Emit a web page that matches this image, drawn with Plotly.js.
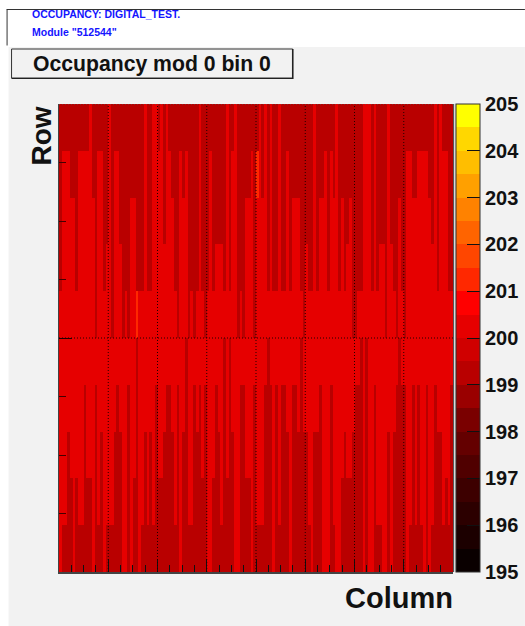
<!DOCTYPE html>
<html><head><meta charset="utf-8">
<script src="https://cdn.plot.ly/plotly-3.0.1.min.js"></script>
<style>html,body{margin:0;padding:0;background:#fff}#c{width:525px;height:626px}</style>
</head><body><div id="c"></div><script>
// Number of dark rows counted from the top edge, per column
const topDark = [4,1,1,1,2,2,4,1,1,1,1,0,2,5,1,1,4,3,0,5,1,1,3,5,4,5,2,2,4,4,4,0,4,4,0,0,1,0,3,0,1,2,4,5,1,2,1,5,4,5,4,0,4,5,4,1,4,3,3,3,4,0,4,1,0,5,4,5,2,2,
 1,5,1,0,2,0,4,0,4,4,0,4,4,1,4,2,2,2,4,5,3,4,4,0,4,2,2,1,4,1,2,0,4,2,4,3,2,5,5,4,4,0,0,0,4,0,4,3,3,5,0,3,4,5,2,4,5,1,1,2,2,1,1,1,1,2,3,0,4,0,1,1,4,4];
// Number of dark rows counted from the bottom edge, per column
const bottomDark = [0,1,1,3,2,0,2,1,1,4,2,2,0,4,1,3,0,1,1,1,3,4,3,0,0,4,0,2,5,0,1,3,1,3,1,4,2,2,3,4,4,3,1,4,0,3,5,1,1,4,3,4,2,4,0,0,2,4,3,1,5,2,5,3,0,0,4,4,2,2,
 0,4,1,1,1,4,5,4,0,4,1,4,4,3,0,4,4,3,5,3,3,1,0,3,3,4,0,0,0,4,1,0,0,2,3,2,2,3,4,4,5,0,5,0,0,4,1,1,0,0,3,0,3,4,5,4,4,0,1,4,1,4,1,0,4,0,1,4,3,3,1,2,1,4];
const brightCells = [[72,8],[28,5]]; // [column, row]
const levelLight = 200, levelDark = 199, levelBright = 201;
const bandColors = ['#0a0000','#1c0000','#2c0000','#3d0000','#500000','#640000','#7a0000','#9a0000','#b90000','#d00000',
 '#e60000','#ff0000','#ff2800','#ff4600','#ff6400','#ff8200','#ffa000','#ffbe00','#ffd700','#ffff00'];
const colorTicks = [195,196,197,198,199,200,201,202,203,204,205];
const sectionEdges = [18,36,54,72,90,108,126];
const nCols = 144, nRows = 10, rowSize = 32;

const z = [];
for (let r = 0; r < nRows; r++) {
  const row = [];
  for (let c = 0; c < nCols; c++) {
    let v = levelLight;
    if (r >= 5 && (nRows - 1 - r) < topDark[c]) v = levelDark;
    if (r < 5 && r < bottomDark[c]) v = levelDark;
    row.push(v);
  }
  z.push(row);
}
brightCells.forEach(([c, r]) => { z[r][c] = levelBright; });

const colorscale = [];
bandColors.forEach((col, i) => {
  colorscale.push([i / bandColors.length, col]);
  colorscale.push([(i + 1) / bandColors.length - 1e-4, col]);
});
colorscale[colorscale.length - 1][0] = 1;

const L = 58.5, R = 453, T = 104, B = 572, W = 525, H = 626;
const px = v => (v - L) / (R - L), py = v => (B - v) / (B - T);
const rect = (x0, y0, x1, y1, fill, line, layer) => ({type:'rect', xref:'paper', yref:'paper', x0:px(x0), x1:px(x1), y0:py(y0), y1:py(y1), fillcolor:fill, line:line||{width:0}, layer:layer||'below'});
const seg = (x0, y0, x1, y1, color, w) => ({type:'line', xref:'paper', yref:'paper', x0:px(x0), x1:px(x1), y0:py(y0), y1:py(y1), line:{color:color, width:w||1}, layer:'below'});
const note = (x, y, text, size, color, xa, extra) => Object.assign({xref:'paper', yref:'paper', x:px(x), y:py(y), text:text, showarrow:false, xanchor:xa||'left', yanchor:'middle', font:{family:'Liberation Sans', size:size, color:color, weight:700}}, extra||{});
const dotted = {color:'#200000', width:1, dash:'1px,2px'};

const shapes = [
  rect(8, 47, 525, 626, '#f2f2f2'),
  seg(6, 9.5, 525, 9.5, '#333333'),
  seg(6.5, 9.5, 6.5, 45.5, '#333333'),
  rect(11, 49, 292.5, 78, '#f2f2f2', {color:'#333333', width:1}),
  seg(11, 78.5, 293, 78.5, '#222222', 1),
  seg(292.5, 49, 292.5, 79, '#222222', 1.5),
  seg(453.5, 104, 453.5, 572, '#555555', 1),
  seg(455, 104, 455, 572, '#d8d8d8', 2)
];
sectionEdges.forEach(e => shapes.push({type:'line', xref:'x', yref:'y', x0:e, x1:e, y0:0, y1:320, line:dotted, layer:'above'}));
shapes.push({type:'line', xref:'x', yref:'y', x0:0, x1:144, y0:160, y1:160, line:dotted, layer:'above'});
shapes.push({type:'line', xref:'x', yref:'y', x0:0, x1:144, y0:320, y1:320, line:{color:'#555555', width:1, dash:'1px,2px'}, layer:'above'});

Plotly.newPlot('c', [{
  type:'heatmap', z:z, x0:0.5, dx:1, y0:rowSize/2, dy:rowSize,
  zmin:195, zmax:205, colorscale:colorscale, zsmooth:false, hoverinfo:'skip',
  colorbar:{
    x:(456-L)/(R-L), xanchor:'left', y:1, yanchor:'top',
    thicknessmode:'pixels', thickness:23.5, lenmode:'fraction', len:1, xpad:0, ypad:0,
    tickmode:'array', tickvals:colorTicks, ticktext:colorTicks.map(String),
    ticks:'inside', ticklen:13, tickwidth:1, tickcolor:'#111111',
    outlinewidth:1, outlinecolor:'#333333', bgcolor:'rgba(0,0,0,0)',
    tickfont:{family:'Liberation Sans', size:20, color:'#111111', weight:700}
  }
}], {
  width:W, height:H, paper_bgcolor:'#ffffff', plot_bgcolor:'#e60000',
  margin:{l:L, r:W-R, t:T, b:H-B, pad:0, autoexpand:false}, showlegend:false,
  xaxis:{range:[0,nCols], dtick:18, tick0:0, ticks:'inside', ticklen:13, tickwidth:1, tickcolor:'#111111', showticklabels:false, showgrid:false, zeroline:false,
    showline:true, linecolor:'#444444', linewidth:1.5, layer:'above traces', minor:{dtick:4.5, tick0:0, ticks:'inside', ticklen:7, tickwidth:1, tickcolor:'#111111', showgrid:false}},
  yaxis:{range:[0,nRows*rowSize], dtick:160, tick0:0, ticks:'inside', ticklen:13, tickwidth:1, tickcolor:'#220000', showticklabels:false, showgrid:false, zeroline:false,
    showline:true, linecolor:'#444444', linewidth:1.5, layer:'above traces', minor:{dtick:40, tick0:0, ticks:'inside', ticklen:7, tickwidth:1, tickcolor:'#440000', showgrid:false}},
  shapes:shapes,
  annotations:[
    note(29.5, 14, 'OCCUPANCY: DIGITAL_TEST.', 10.5, '#1414ff'),
    note(29.5, 31.5, 'Module "512544"', 10.5, '#1414ff'),
    note(151.5, 64, 'Occupancy mod 0 bin 0', 21.2, '#111111', 'center'),
    note(40, 136, 'Row', 28, '#111111', 'center', {textangle:-90}),
    note(455, 598, 'Column', 29, '#111111', 'right')
  ]
}, {displayModeBar:false, staticPlot:true});
</script></body></html>
